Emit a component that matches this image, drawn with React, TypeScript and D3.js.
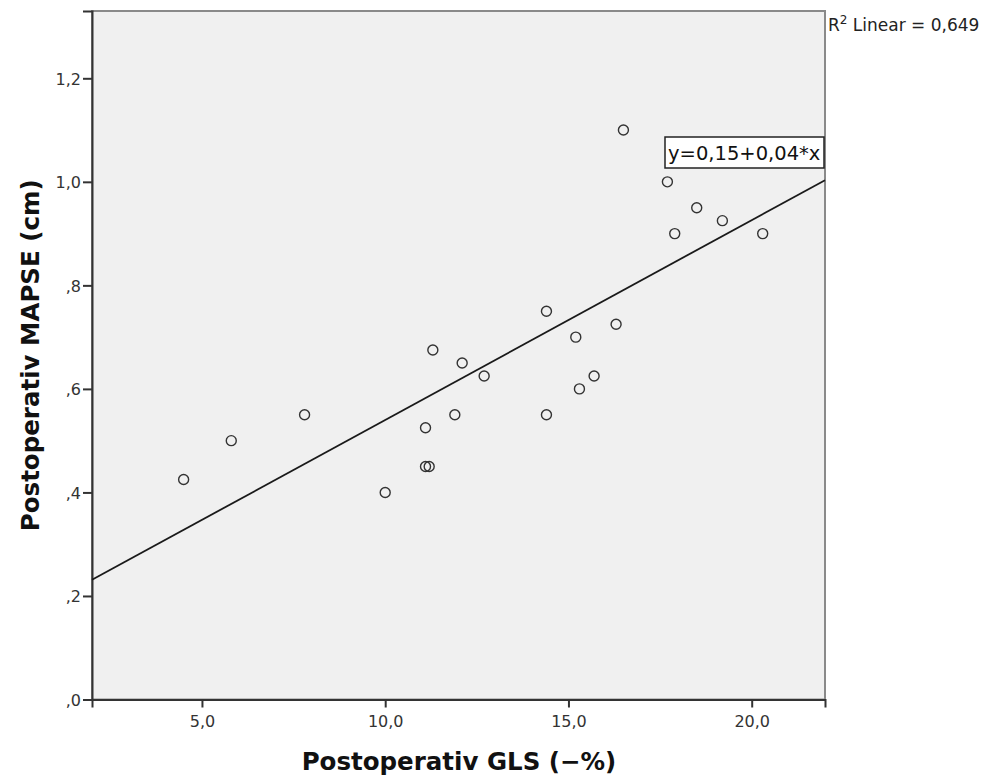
import React, { useEffect, useRef } from "react";
import * as d3 from "d3";

// GLS (-%) vs MAPSE (cm)
const glsValues = [4.5, 5.8, 7.8, 10.0, 11.1, 11.1, 11.2, 11.3, 11.9, 12.1, 12.7, 14.4, 14.4, 15.2, 15.3, 15.7, 16.3, 16.5, 17.7, 17.9, 18.5, 19.2, 20.3];
const mapseValues = [0.425, 0.5, 0.55, 0.4, 0.525, 0.45, 0.45, 0.675, 0.55, 0.65, 0.625, 0.75, 0.55, 0.7, 0.6, 0.625, 0.725, 1.1, 1.0, 0.9, 0.95, 0.925, 0.9];
const xTicks = [5, 10, 15, 20];
const yTicks = [0, 0.2, 0.4, 0.6, 0.8, 1.0, 1.2];
const fitIntercept = 0.154;
const fitSlope = 0.0386;
const fitLabel = "y=0,15+0,04*x";
const r2Label = "0,649";

export default function App() {
  const ref = useRef<SVGSVGElement>(null);

  useEffect(() => {
    const svg = d3.select(ref.current);
    svg.selectAll("*").remove();

    const left = 92, right = 825, top = 11, bottom = 699.5;
    const x = d3.scaleLinear().domain([2, 22]).range([left, right]);
    const y = d3.scaleLinear().domain([0, 1.33]).range([bottom, top]);
    const font = "'DejaVu Sans', sans-serif";

    // plot background + frame
    svg.append("rect")
      .attr("x", left).attr("y", top)
      .attr("width", right - left).attr("height", bottom - top)
      .attr("fill", "#f0f0f0")
      .attr("stroke", "#8a8a8a").attr("stroke-width", 2);

    // axes
    const fmt = (d: number, yAxis: boolean) => {
      let s = d3.format(".1f")(d).replace(".", ",");
      if (yAxis && d < 1) s = s.replace(/^0/, "");
      return s;
    };
    const xAxis = d3.axisBottom(x).tickValues(xTicks).tickSize(8).tickFormat((d) => fmt(+d, false));
    const yAxis = d3.axisLeft(y).tickValues(yTicks).tickSize(9).tickFormat((d) => fmt(+d, true));

    const gx = svg.append("g").attr("transform", `translate(0,${bottom})`).call(xAxis);
    const gy = svg.append("g").attr("transform", `translate(${left},0)`).call(yAxis);
    [gx, gy].forEach((g) => {
      g.select(".domain").attr("stroke", "#333").attr("stroke-width", 2);
      g.selectAll(".tick line").attr("stroke", "#333").attr("stroke-width", 2);
      g.selectAll(".tick text").attr("fill", "#333").attr("font-size", 16).attr("font-family", font);
    });
    gx.selectAll(".tick text").attr("y", 0).attr("dy", 27.5);
    gy.selectAll(".tick text").attr("x", -11).attr("dy", "0.36em");

    // fit line
    svg.append("line")
      .attr("x1", x(2)).attr("y1", y(fitIntercept + fitSlope * 2))
      .attr("x2", x(22)).attr("y2", y(fitIntercept + fitSlope * 22))
      .attr("stroke", "#1a1a1a").attr("stroke-width", 1.8);

    // points
    svg.append("g").selectAll("circle")
      .data(glsValues.map((g, i) => [g, mapseValues[i]]))
      .enter().append("circle")
      .attr("cx", (d) => x(d[0])).attr("cy", (d) => y(d[1]))
      .attr("r", 5)
      .attr("fill", "none").attr("stroke", "#333").attr("stroke-width", 1.4);

    // equation label
    const lbl = svg.append("g");
    lbl.append("rect")
      .attr("x", 665).attr("y", 137).attr("width", 159).attr("height", 31)
      .attr("fill", "#fff").attr("stroke", "#222").attr("stroke-width", 1.5);
    lbl.append("text")
      .attr("x", 668).attr("y", 159.5)
      .attr("font-size", 19.5).attr("font-family", font).attr("fill", "#111")
      .text(fitLabel);

    // R2
    const r2 = svg.append("text")
      .attr("x", 828).attr("y", 31)
      .attr("font-size", 17).attr("font-family", font).attr("fill", "#222");
    r2.append("tspan").text("R");
    r2.append("tspan").attr("dy", -7).attr("font-size", 12).text("2");
    r2.append("tspan").attr("dy", 7).text(" Linear = " + r2Label);

    // axis titles
    svg.append("text")
      .attr("x", 459).attr("y", 770)
      .attr("text-anchor", "middle")
      .attr("font-size", 24.5).attr("font-weight", "bold").attr("font-family", font)
      .attr("fill", "#111")
      .text("Postoperativ GLS (\u2212%)");
    svg.append("text")
      .attr("transform", `translate(39,${(top + bottom) / 2}) rotate(-90)`)
      .attr("text-anchor", "middle")
      .attr("font-size", 24.5).attr("font-weight", "bold").attr("font-family", font)
      .attr("fill", "#111")
      .text("Postoperativ MAPSE (cm)");
  }, []);

  return (
    <svg ref={ref} width={982} height={778} style={{ position: "absolute", left: 0, top: 0 }} />
  );
}
